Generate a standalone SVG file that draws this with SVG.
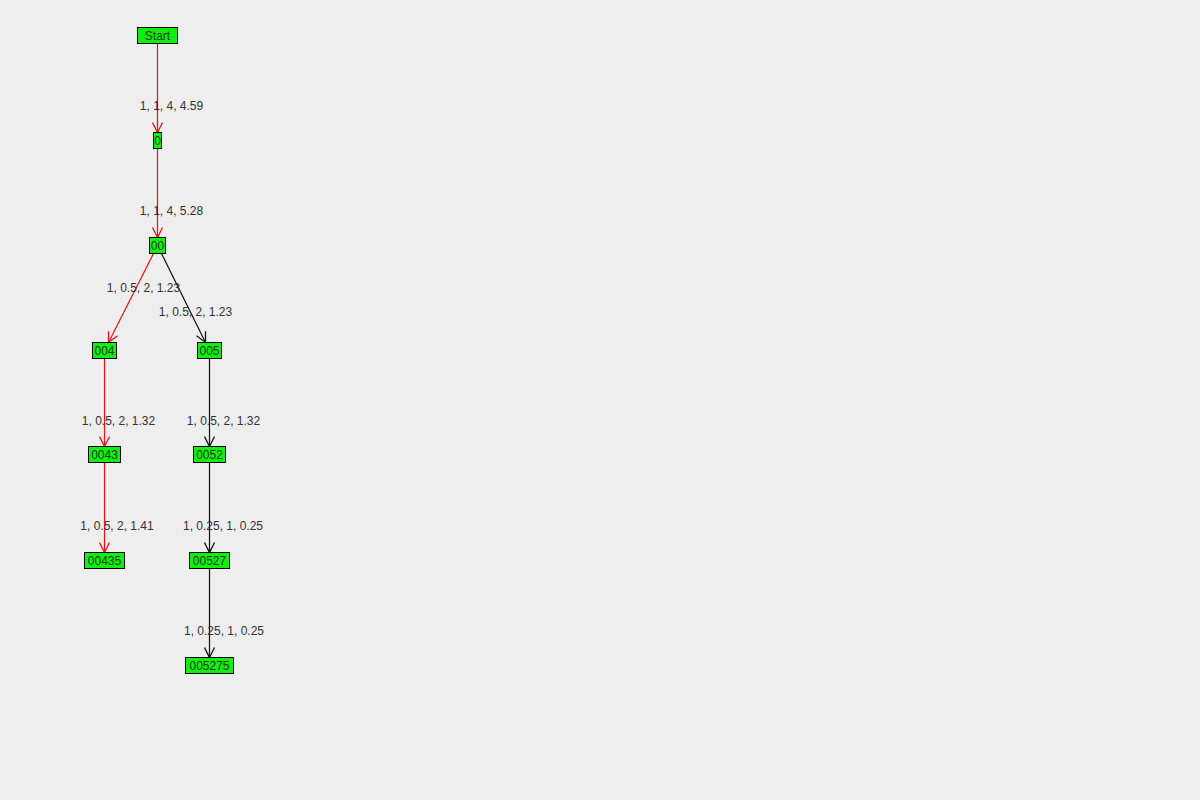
<svg xmlns="http://www.w3.org/2000/svg" width="1200" height="800" viewBox="0 0 1200 800">
<style>
.n rect{fill:#11ee11;stroke:#000;stroke-width:1}
.n text{font-family:"Liberation Sans",Arial,sans-serif;font-size:12px;fill:#1a3a1a;text-anchor:middle}
.e{fill:none;stroke-width:1.2}
.red{stroke:#ee1111}
.blk{stroke:#111}
.lbl{font-family:"Liberation Sans",Arial,sans-serif;font-size:12px;fill:#333;text-anchor:middle}
</style>
<defs>
<marker id="ar" viewBox="0 0 12 12" refX="11" refY="6" markerWidth="12" markerHeight="12" markerUnits="userSpaceOnUse" orient="auto">
<path d="M1,1 L11,6 L1,11" fill="none" stroke="#ee1111" stroke-width="1.3"/>
</marker>
<marker id="ab" viewBox="0 0 12 12" refX="11" refY="6" markerWidth="12" markerHeight="12" markerUnits="userSpaceOnUse" orient="auto">
<path d="M1,1 L11,6 L1,11" fill="none" stroke="#111" stroke-width="1.3"/>
</marker>
</defs>
<rect width="1200" height="800" fill="#eeeeee"/>
<g id="connectors">
<line class="e red" x1="157.5" y1="43.5" x2="157.5" y2="132.5" marker-end="url(#ar)"/>
<line class="e red" x1="157.5" y1="148.5" x2="157.5" y2="237.5" marker-end="url(#ar)"/>
<line class="e red" x1="153.5" y1="253.5" x2="108.5" y2="342.5" marker-end="url(#ar)"/>
<line class="e blk" x1="161.5" y1="253.5" x2="205.5" y2="342.5" marker-end="url(#ab)"/>
<line class="e red" x1="104.5" y1="358.5" x2="104.5" y2="446.5" marker-end="url(#ar)"/>
<line class="e blk" x1="209.5" y1="358.5" x2="209.5" y2="446.5" marker-end="url(#ab)"/>
<line class="e red" x1="104.5" y1="462.5" x2="104.5" y2="552.5" marker-end="url(#ar)"/>
<line class="e blk" x1="209.5" y1="462.5" x2="209.5" y2="552.5" marker-end="url(#ab)"/>
<line class="e blk" x1="209.5" y1="568.5" x2="209.5" y2="657.5" marker-end="url(#ab)"/>
<text class="lbl" x="171.5" y="110">1, 1, 4, 4.59</text>
<text class="lbl" x="171.5" y="215">1, 1, 4, 5.28</text>
<text class="lbl" x="143.5" y="292">1, 0.5, 2, 1.23</text>
<text class="lbl" x="195.5" y="316">1, 0.5, 2, 1.23</text>
<text class="lbl" x="118.5" y="425">1, 0.5, 2, 1.32</text>
<text class="lbl" x="223.5" y="425">1, 0.5, 2, 1.32</text>
<text class="lbl" x="117" y="530">1, 0.5, 2, 1.41</text>
<text class="lbl" x="223" y="530">1, 0.25, 1, 0.25</text>
<text class="lbl" x="224" y="635">1, 0.25, 1, 0.25</text>
</g>
<g id="n-start" class="n"><rect x="137.5" y="27.5" width="40" height="16"/><text x="157.5" y="40">Start</text></g>
<g id="n-0" class="n"><rect x="153.5" y="132.5" width="8" height="16"/><text x="157.5" y="145">0</text></g>
<g id="n-00" class="n"><rect x="149.5" y="237.5" width="16" height="16"/><text x="157.5" y="250">00</text></g>
<g id="n-004" class="n"><rect x="92.5" y="342.5" width="24" height="16"/><text x="104.5" y="355">004</text></g>
<g id="n-005" class="n"><rect x="197.5" y="342.5" width="24" height="16"/><text x="209.5" y="355">005</text></g>
<g id="n-0043" class="n"><rect x="88.5" y="446.5" width="32" height="16"/><text x="104.5" y="459">0043</text></g>
<g id="n-0052" class="n"><rect x="193.5" y="446.5" width="32" height="16"/><text x="209.5" y="459">0052</text></g>
<g id="n-00435" class="n"><rect x="84.5" y="552.5" width="40" height="16"/><text x="104.5" y="565">00435</text></g>
<g id="n-00527" class="n"><rect x="189.5" y="552.5" width="40" height="16"/><text x="209.5" y="565">00527</text></g>
<g id="n-005275" class="n"><rect x="185.5" y="657.5" width="48" height="16"/><text x="209.5" y="670">005275</text></g>
</svg>
